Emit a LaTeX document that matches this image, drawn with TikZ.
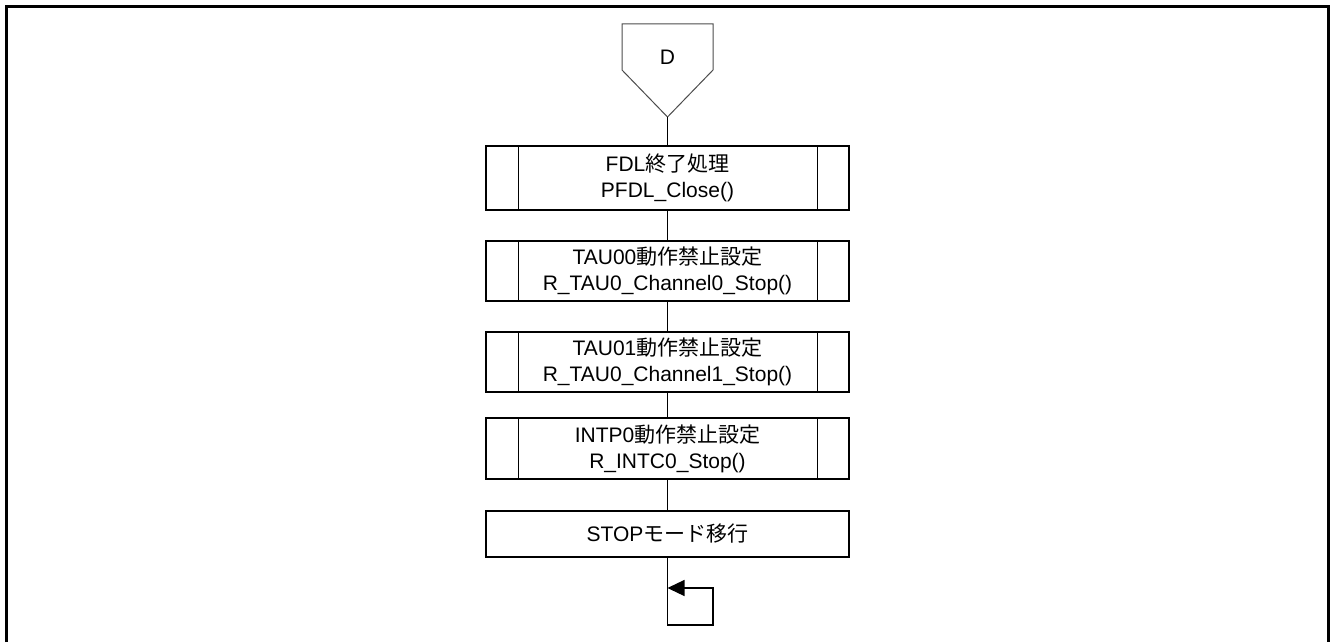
\documentclass[tikz,border=0pt]{standalone}
\usepackage{fontspec}
\setmainfont{Liberation Sans}
\newfontfamily\jp{Noto Sans CJK JP}
\usetikzlibrary{arrows.meta}
\begin{document}
\begin{tikzpicture}[x=1pt,y=-1pt,
  lbl/.style={font=\fontsize{21}{26}\selectfont, align=center, inner sep=0pt},
  procbox/.style={lbl, draw, line width=1.3pt, minimum width=363pt},
  conn/.style={line width=1.3pt},
]
\useasboundingbox (0,0) rectangle (1332,642);
% frame
\draw[line width=3pt] (6.5,642) -- (6.5,7) -- (1328,7) -- (1328,642);
% off-page connector D
\node[lbl] (D) at (667.5,57) {D};
\coordinate (apex) at (667.5,117);
\draw[line width=1pt, black!70] (622,24) -- (713,24) -- (713,70) -- (apex) -- (622,70) -- cycle;
% boxes
\node[procbox, minimum height=64pt] (b1) at (667.5,178) {FDL{\jp 終了処理}\\PFDL\_Close()};
\node[procbox, minimum height=60pt] (b2) at (667.5,271) {TAU00{\jp 動作禁止設定}\\R\_TAU0\_Channel0\_Stop()};
\node[procbox, minimum height=60pt] (b3) at (667.5,362) {TAU01{\jp 動作禁止設定}\\R\_TAU0\_Channel1\_Stop()};
\node[procbox, minimum height=61pt] (b4) at (667.5,448.5) {INTP0{\jp 動作禁止設定}\\R\_INTC0\_Stop()};
\node[procbox, minimum height=46pt] (b5) at (667.5,534) {STOP{\jp モード移行}};
\foreach \b in {b1,b2,b3,b4}{
  \draw[conn] ([xshift=33pt]\b.north west) -- ([xshift=33pt]\b.south west);
  \draw[conn] ([xshift=-32pt]\b.north east) -- ([xshift=-32pt]\b.south east);
}
% connectors
\draw[conn] (apex) -- (b1.north);
\draw[conn] (b1) -- (b2);
\draw[conn] (b2) -- (b3);
\draw[conn] (b3) -- (b4);
\draw[conn] (b4) -- (b5);
\coordinate (l1) at (667.5,625);
\coordinate (l2) at (713,625);
\coordinate (l3) at (713,588);
\coordinate (l4) at (667.5,588);
\draw[conn, -{Triangle[length=17pt,width=16pt]}] (b5.south) -- (l1) -- (l2) -- (l3) -- (l4);
\end{tikzpicture}
\end{document}
